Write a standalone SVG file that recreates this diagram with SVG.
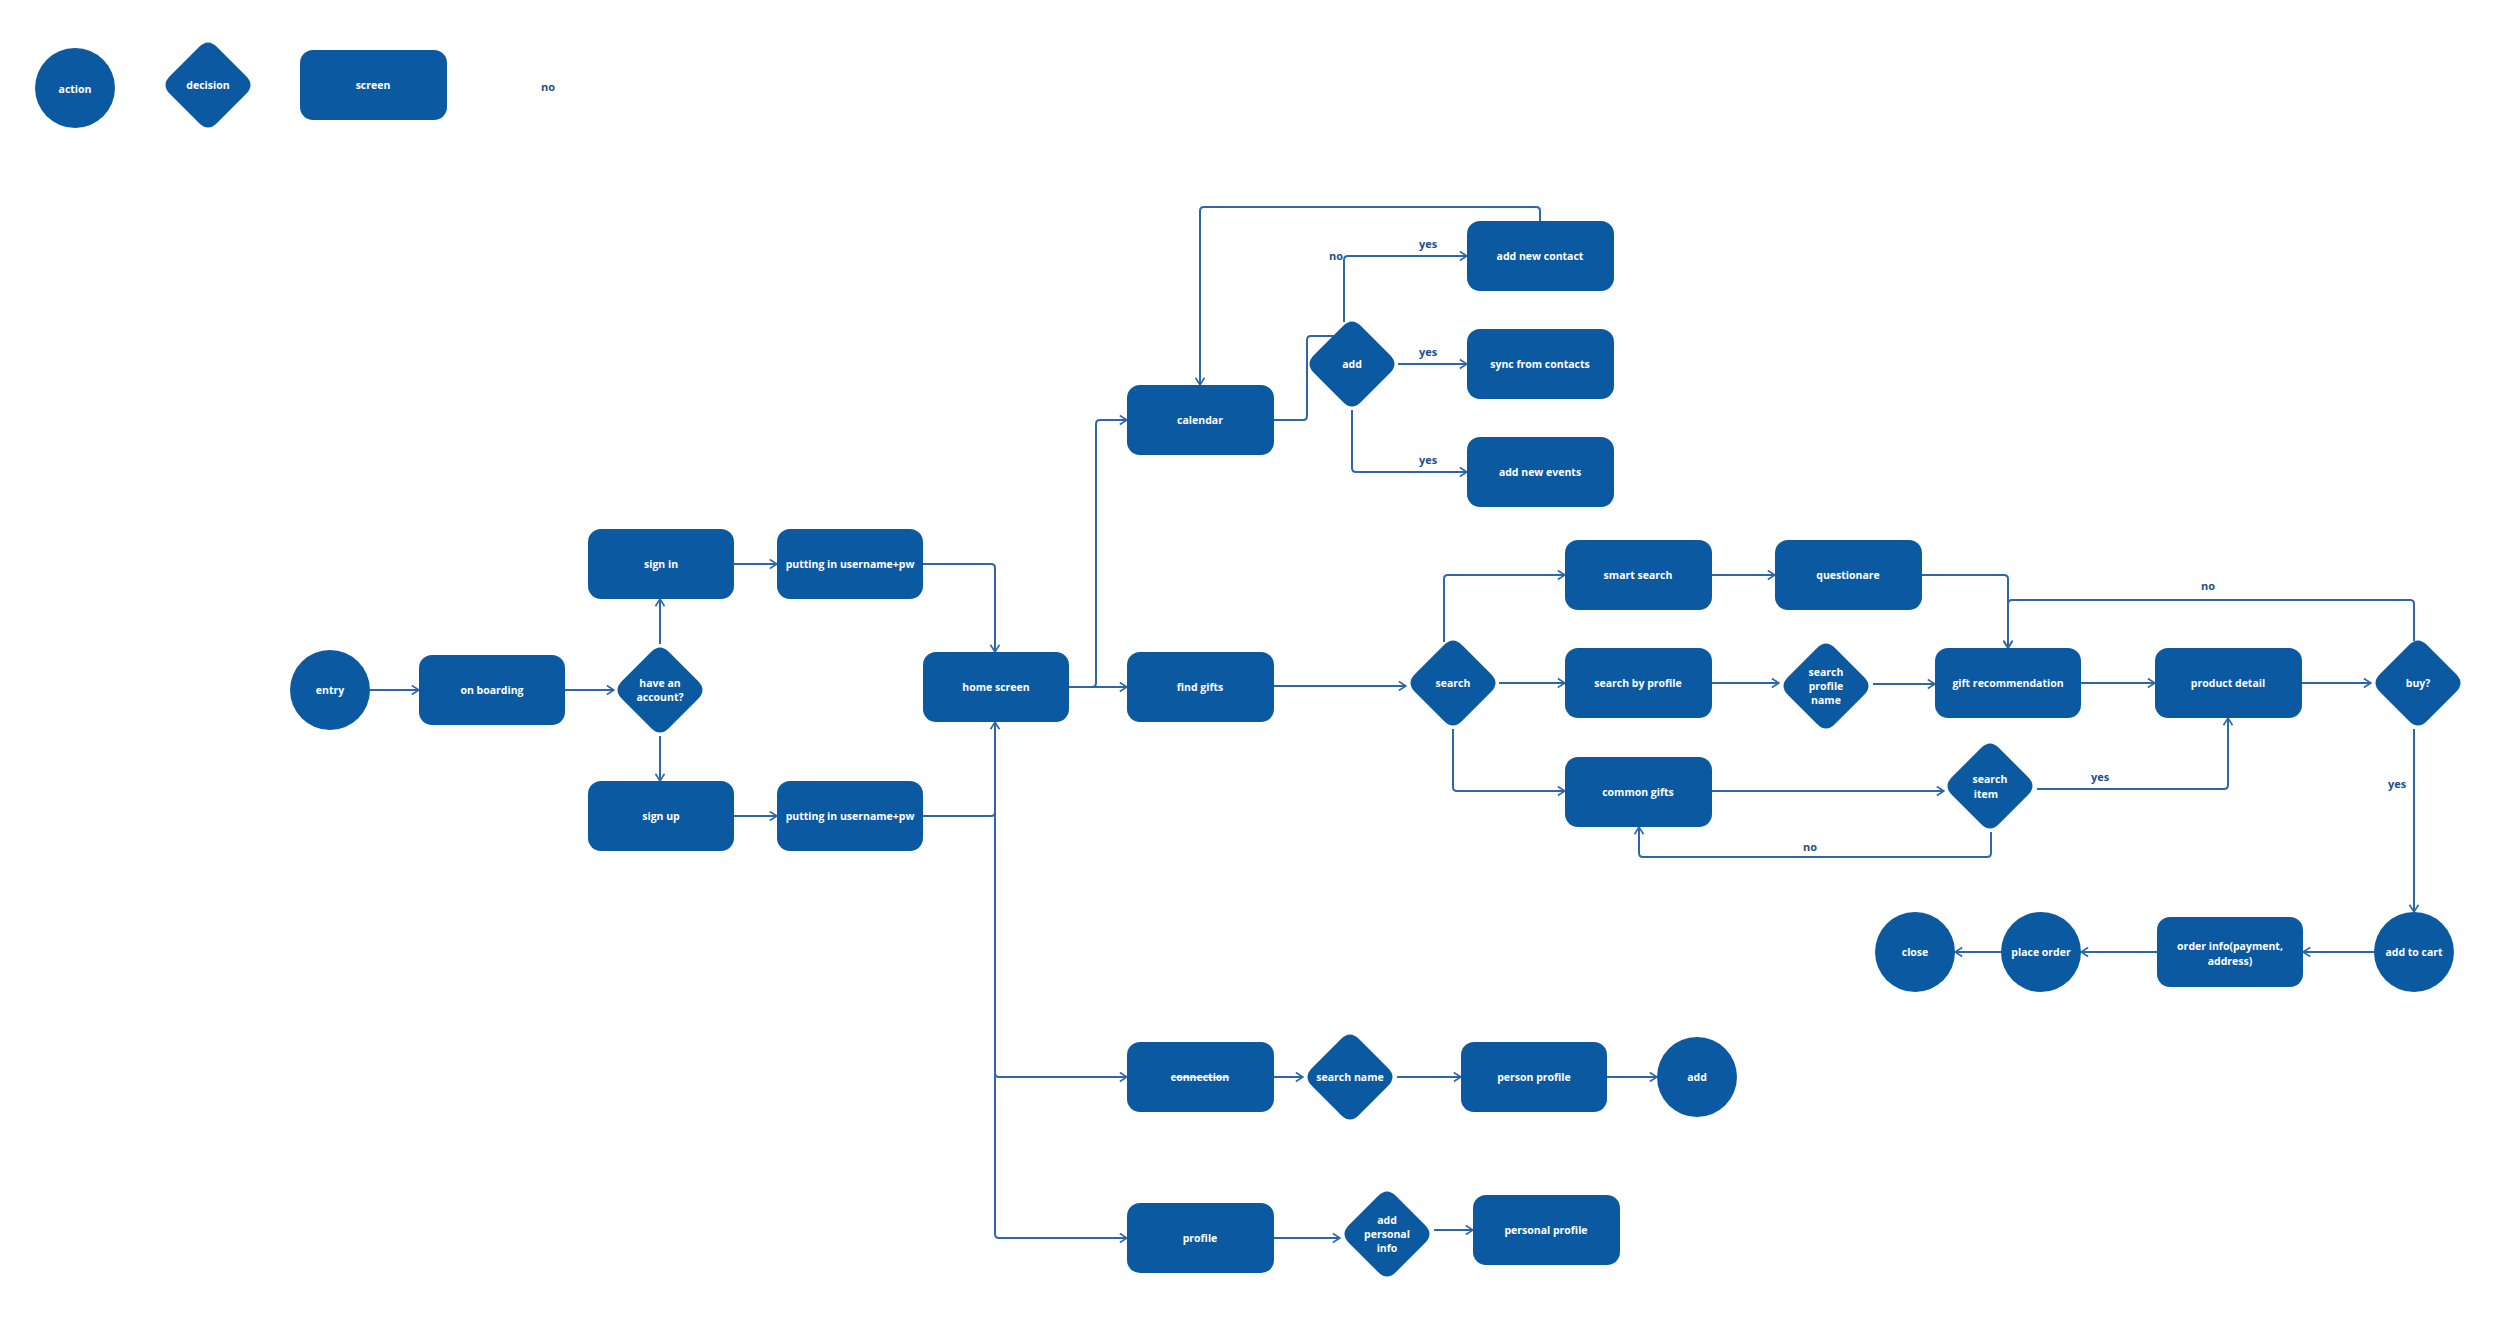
<svg xmlns="http://www.w3.org/2000/svg" xmlns:xlink="http://www.w3.org/1999/xlink" width="2500" height="1320" viewBox="0 0 2500 1320">
<style>
.n{fill:#0b5aa1}
.t{fill:#ffffff;font-family:"Open Sans","Noto Sans","Liberation Sans",sans-serif;font-weight:700;font-size:10.5px;text-anchor:middle;dominant-baseline:central}
.e{fill:none;stroke:#2d67aa;stroke-width:2}
.a{marker-end:url(#arr)}
.l{fill:#1d4f8a;font-family:"Open Sans","Noto Sans","Liberation Sans",sans-serif;font-weight:700;font-size:11px;text-anchor:middle;dominant-baseline:central}
</style>
<defs>
<marker id="arr" viewBox="0 0 10 12" refX="9" refY="6" markerWidth="9" markerHeight="12" markerUnits="userSpaceOnUse" orient="auto">
<path d="M1,1 L9,6 L1,11" fill="none" stroke="#2d67aa" stroke-width="1.8"/>
</marker>
<path id="dia" d="M-9,-38 Q0,-47 9,-38 L38,-9 Q47,0 38,9 L9,38 Q0,47 -9,38 L-38,9 Q-47,0 -38,-9 Z"/>
</defs>
<rect width="2500" height="1320" fill="#ffffff"/>

<g id="legend">
<g id="legend-action"><circle class="n" cx="75" cy="88" r="40"/><text class="t" x="75" y="89">action</text></g>
<g id="legend-decision"><use href="#dia" class="n" x="208" y="85"/><text class="t" x="208" y="85">decision</text></g>
<g id="legend-screen"><rect class="n" x="300" y="50" width="147" height="70" rx="13"/><text class="t" x="373" y="85">screen</text></g>
<g id="legend-no"><text class="l" x="548" y="86">no</text></g>
</g>

<g id="connectors">
<path class="e a" d="M370,690 H419"/>
<path class="e a" d="M565,690 H614"/>
<path class="e a" d="M660,644 V599"/>
<path class="e a" d="M660,736 V781"/>
<path class="e a" d="M734,564 H777"/>
<path class="e a" d="M734,816 H777"/>
<path class="e a" d="M923,564 H991 Q995,564 995,568 V652"/>
<path class="e a" d="M923,816 H991 Q995,816 995,812 V722"/>
<path class="e a" d="M995,722 V1234 Q995,1238 999,1238 H1127"/>
<path class="e a" d="M995,1073 Q995,1077 999,1077 H1127"/>
<path class="e a" d="M1069,687 H1127"/>
<path class="e a" d="M1069,687 H1092 Q1096,687 1096,683 V424 Q1096,420 1100,420 H1127"/>
<path class="e" d="M1274,420 H1303 Q1307,420 1307,416 V340 Q1307,336 1311,336 H1335"/>
<path class="e a" d="M1344,322 V260 Q1344,256 1348,256 H1467"/>
<path class="e a" d="M1398,364 H1467"/>
<path class="e a" d="M1352,410 V468 Q1352,472 1356,472 H1467"/>
<path class="e a" d="M1540,221 V211 Q1540,207 1536,207 H1204 Q1200,207 1200,211 V385"/>
<path class="e a" d="M1274,686 H1406"/>
<path class="e a" d="M1444,642 V579 Q1444,575 1448,575 H1565"/>
<path class="e a" d="M1499,683 H1565"/>
<path class="e a" d="M1453,729 V787 Q1453,791 1457,791 H1565"/>
<path class="e a" d="M1712,575 H1775"/>
<path class="e a" d="M1922,575 H2004 Q2008,575 2008,579 V648"/>
<path class="e a" d="M1712,683 H1779"/>
<path class="e a" d="M1873,684 H1935"/>
<path class="e a" d="M2081,683 H2155"/>
<path class="e a" d="M2302,683 H2371"/>
<path class="e a" d="M2414,641 V604 Q2414,600 2410,600 H2012 Q2008,600 2008,604 V648"/>
<path class="e a" d="M1712,791 H1944"/>
<path class="e a" d="M2037,789 H2224 Q2228,789 2228,785 V718"/>
<path class="e a" d="M1991,832 V853 Q1991,857 1987,857 H1643 Q1639,857 1639,853 V827"/>
<path class="e a" d="M2414,729 V912"/>
<path class="e a" d="M2374,952 H2303"/>
<path class="e a" d="M2157,952 H2081"/>
<path class="e a" d="M2001,952 H1955"/>
<path class="e a" d="M1274,1077 H1303"/>
<path class="e a" d="M1397,1077 H1461"/>
<path class="e a" d="M1607,1077 H1657"/>
<path class="e a" d="M1274,1238 H1340"/>
<path class="e a" d="M1434,1230 H1473"/>
<text class="l" x="1336" y="255">no</text>
<text class="l" x="1428" y="243">yes</text>
<text class="l" x="1428" y="351">yes</text>
<text class="l" x="1428" y="459">yes</text>
<text class="l" x="2208" y="585">no</text>
<text class="l" x="2100" y="776">yes</text>
<text class="l" x="1810" y="846">no</text>
<text class="l" x="2397" y="783">yes</text>
</g>

<g id="entry"><circle class="n" cx="330" cy="690" r="40"/><text class="t" x="330" y="690">entry</text></g>
<g id="on-boarding"><rect class="n" x="419" y="655" width="146" height="70" rx="13"/><text class="t" x="492" y="690">on boarding</text></g>
<g id="have-account"><use href="#dia" class="n" x="660" y="690"/><text class="t" x="660" y="683">have an</text><text class="t" x="660" y="697">account?</text></g>
<g id="sign-in"><rect class="n" x="588" y="529" width="146" height="70" rx="13"/><text class="t" x="661" y="564">sign in</text></g>
<g id="putting-in-1"><rect class="n" x="777" y="529" width="146" height="70" rx="13"/><text class="t" x="850" y="564">putting in username+pw</text></g>
<g id="sign-up"><rect class="n" x="588" y="781" width="146" height="70" rx="13"/><text class="t" x="661" y="816">sign up</text></g>
<g id="putting-in-2"><rect class="n" x="777" y="781" width="146" height="70" rx="13"/><text class="t" x="850" y="816">putting in username+pw</text></g>
<g id="home-screen"><rect class="n" x="923" y="652" width="146" height="70" rx="13"/><text class="t" x="996" y="687">home screen</text></g>
<g id="calendar"><rect class="n" x="1127" y="385" width="147" height="70" rx="13"/><text class="t" x="1200" y="420">calendar</text></g>
<g id="add-decision"><use href="#dia" class="n" x="1352" y="364"/><text class="t" x="1352" y="364">add</text></g>
<g id="add-new-contact"><rect class="n" x="1467" y="221" width="147" height="70" rx="13"/><text class="t" x="1540" y="256">add new contact</text></g>
<g id="sync-from-contacts"><rect class="n" x="1467" y="329" width="147" height="70" rx="13"/><text class="t" x="1540" y="364">sync from contacts</text></g>
<g id="add-new-events"><rect class="n" x="1467" y="437" width="147" height="70" rx="13"/><text class="t" x="1540" y="472">add new events</text></g>
<g id="find-gifts"><rect class="n" x="1127" y="652" width="147" height="70" rx="13"/><text class="t" x="1200" y="687">find gifts</text></g>
<g id="search"><use href="#dia" class="n" x="1453" y="683"/><text class="t" x="1453" y="683">search</text></g>
<g id="smart-search"><rect class="n" x="1565" y="540" width="147" height="70" rx="13"/><text class="t" x="1638" y="575">smart search</text></g>
<g id="search-by-profile"><rect class="n" x="1565" y="648" width="147" height="70" rx="13"/><text class="t" x="1638" y="683">search by profile</text></g>
<g id="common-gifts"><rect class="n" x="1565" y="757" width="147" height="70" rx="13"/><text class="t" x="1638" y="792">common gifts</text></g>
<g id="questionare"><rect class="n" x="1775" y="540" width="147" height="70" rx="13"/><text class="t" x="1848" y="575">questionare</text></g>
<g id="search-profile-name"><use href="#dia" class="n" x="1826" y="686"/><text class="t" x="1826" y="672">search</text><text class="t" x="1826" y="686">profile</text><text class="t" x="1826" y="700">name</text></g>
<g id="gift-recommendation"><rect class="n" x="1935" y="648" width="146" height="70" rx="13"/><text class="t" x="2008" y="683">gift recommendation</text></g>
<g id="product-detail"><rect class="n" x="2155" y="648" width="147" height="70" rx="13"/><text class="t" x="2228" y="683">product detail</text></g>
<g id="buy"><use href="#dia" class="n" x="2418" y="683"/><text class="t" x="2418" y="683">buy?</text></g>
<g id="search-item"><use href="#dia" class="n" x="1990" y="786"/><text class="t" x="1990" y="779">search</text><text class="t" x="1986" y="794">item</text></g>
<g id="add-to-cart"><circle class="n" cx="2414" cy="952" r="40"/><text class="t" x="2414" y="952">add to cart</text></g>
<g id="order-info"><rect class="n" x="2157" y="917" width="146" height="70" rx="13"/><text class="t" x="2230" y="946">order info(payment,</text><text class="t" x="2230" y="961">address)</text></g>
<g id="place-order"><circle class="n" cx="2041" cy="952" r="40"/><text class="t" x="2041" y="952">place order</text></g>
<g id="close"><circle class="n" cx="1915" cy="952" r="40"/><text class="t" x="1915" y="952">close</text></g>
<g id="connection"><rect class="n" x="1127" y="1042" width="147" height="70" rx="13"/><text class="t" x="1200" y="1077" text-decoration="line-through">connection</text></g>
<g id="search-name"><use href="#dia" class="n" x="1350" y="1077"/><text class="t" x="1350" y="1077">search name</text></g>
<g id="person-profile"><rect class="n" x="1461" y="1042" width="146" height="70" rx="13"/><text class="t" x="1534" y="1077">person profile</text></g>
<g id="add-action"><circle class="n" cx="1697" cy="1077" r="40"/><text class="t" x="1697" y="1077">add</text></g>
<g id="profile"><rect class="n" x="1127" y="1203" width="147" height="70" rx="13"/><text class="t" x="1200" y="1238">profile</text></g>
<g id="add-personal-info"><use href="#dia" class="n" x="1387" y="1234"/><text class="t" x="1387" y="1220">add</text><text class="t" x="1387" y="1234">personal</text><text class="t" x="1387" y="1248">info</text></g>
<g id="personal-profile"><rect class="n" x="1473" y="1195" width="147" height="70" rx="13"/><text class="t" x="1546" y="1230">personal profile</text></g>
</svg>
